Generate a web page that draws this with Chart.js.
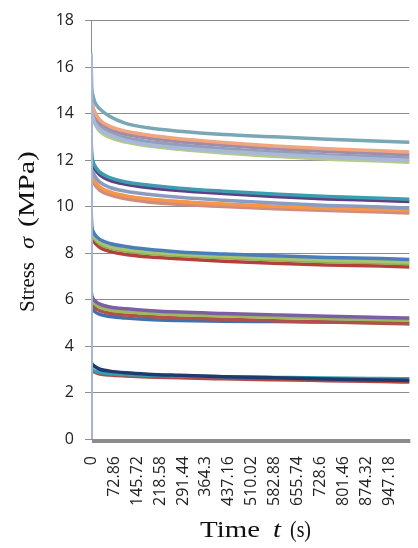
<!DOCTYPE html>
<html>
<head>
<meta charset="utf-8">
<script src="https://cdn.jsdelivr.net/npm/chart.js@4.4.1/dist/chart.umd.min.js"></script>
<style>
  html, body { margin: 0; padding: 0; background: #fff; }
  #relaxChart { display: block; }
</style>
</head>
<body>
<canvas id="relaxChart" width="418" height="548"></canvas>
<script>
// sample times (s) shared by every curve
const times = [0, 0.5, 2, 5, 12, 28, 60, 110, 180, 280, 420, 580, 750, 920, 1020];
// time values printed under the axis
const tickTimes = [0, 72.86, 145.72, 218.58, 291.44, 364.3, 437.16, 510.02, 582.88, 655.74, 728.6, 801.46, 874.32, 947.18];
const stressTicks = [0, 2, 4, 6, 8, 10, 12, 14, 16, 18];

// stress (MPa), highest load level
const l5a = [0, 16.6, 14.2, 13.9, 13.6, 13.32, 13.08, 12.84, 12.67, 12.52, 12.38, 12.25, 12.14, 12.04, 11.98];
const l5b = [0, 16.0, 15.2, 14.85, 14.5, 14.2, 13.87, 13.58, 13.39, 13.24, 13.1, 13.0, 12.9, 12.81, 12.76];
const l5c = [0, 15.2, 14.68, 14.38, 14.07, 13.73, 13.45, 13.24, 13.08, 12.92, 12.76, 12.61, 12.49, 12.4, 12.34];
const l5d = [0, 14.9, 14.54, 14.24, 13.93, 13.6, 13.32, 13.11, 12.95, 12.79, 12.64, 12.49, 12.37, 12.28, 12.22];
const l5e = [0, 14.8, 14.38, 14.07, 13.77, 13.45, 13.17, 12.96, 12.8, 12.65, 12.49, 12.35, 12.22, 12.14, 12.08];
const l5f = [0, 14.5, 14.16, 13.86, 13.57, 13.24, 12.97, 12.77, 12.61, 12.46, 12.3, 12.16, 12.04, 11.96, 11.9];
// fourth load level
const l4a = [0, 12.8, 12.27, 12.01, 11.75, 11.48, 11.24, 11.06, 10.93, 10.79, 10.66, 10.54, 10.43, 10.36, 10.31];
const l4b = [0, 12.5, 12.15, 11.89, 11.64, 11.36, 11.13, 10.96, 10.82, 10.69, 10.56, 10.43, 10.33, 10.26, 10.21];
const l4c = [0, 12.3, 11.82, 11.57, 11.32, 11.05, 10.82, 10.66, 10.53, 10.4, 10.27, 10.15, 10.05, 9.98, 9.93];
const l4d = [0, 13.0, 11.6, 11.35, 11.1, 10.84, 10.63, 10.46, 10.33, 10.22, 10.11, 10.01, 9.93, 9.87, 9.83];
const l4e = [0, 12.1, 11.45, 11.2, 10.95, 10.7, 10.5, 10.33, 10.2, 10.1, 10.0, 9.91, 9.83, 9.77, 9.72];
const l4f = [0, 12.0, 11.55, 11.3, 11.05, 10.8, 10.6, 10.44, 10.31, 10.2, 10.09, 9.99, 9.9, 9.84, 9.8];
// third load level
const l3a = [0, 9.6, 9.19, 8.99, 8.8, 8.59, 8.41, 8.28, 8.16, 8.05, 7.96, 7.88, 7.81, 7.76, 7.72];
const l3b = [0, 9.4, 9.04, 8.85, 8.66, 8.46, 8.28, 8.15, 8.05, 7.95, 7.86, 7.77, 7.69, 7.64, 7.6];
const l3c = [0, 9.3, 8.97, 8.78, 8.6, 8.39, 8.22, 8.09, 7.99, 7.89, 7.8, 7.71, 7.63, 7.58, 7.54];
const l3d = [0, 9.9, 8.81, 8.62, 8.44, 8.24, 8.07, 7.94, 7.84, 7.75, 7.65, 7.56, 7.49, 7.44, 7.4];
// second load level
const l2a = [0, 6.4, 6.2, 6.08, 5.95, 5.8, 5.68, 5.6, 5.53, 5.46, 5.4, 5.34, 5.28, 5.23, 5.2];
const l2b = [0, 6.3, 6.05, 5.93, 5.82, 5.66, 5.55, 5.47, 5.41, 5.35, 5.3, 5.24, 5.18, 5.13, 5.1];
const l2c = [0, 6.2, 5.9, 5.78, 5.66, 5.52, 5.41, 5.33, 5.27, 5.21, 5.15, 5.09, 5.03, 4.98, 4.95];
const l2d = [0, 6.0, 5.75, 5.62, 5.48, 5.36, 5.27, 5.2, 5.14, 5.1, 5.07, 5.05, 5.03, 5.01, 5.0];
// lowest load level
const l1a = [0, 3.35, 3.25, 3.2, 3.12, 3.0, 2.92, 2.85, 2.79, 2.74, 2.68, 2.63, 2.58, 2.54, 2.52];
const l1b = [0, 3.2, 3.05, 2.97, 2.92, 2.86, 2.81, 2.77, 2.74, 2.71, 2.68, 2.65, 2.62, 2.6, 2.59];
const l1c = [0, 3.1, 3.0, 2.93, 2.87, 2.8, 2.75, 2.71, 2.67, 2.63, 2.59, 2.55, 2.51, 2.47, 2.45];

const curves = [l5a, l5b, l5c, l5d, l5e, l5f, l4a, l4b, l4c, l4d, l4e, l4f,
                l3a, l3b, l3c, l3d, l2a, l2b, l2c, l2d, l1a, l1b, l1c];
const lineColors = ['#a9b8d8', '#79a7b5', '#f2a47f', '#a08ea9', '#909fbb', '#b5c98b',
                    '#3c9db0', '#5f3f85', '#8b9cc3', '#f79646', '#cf8d80', '#a8aed3',
                    '#4a7dba', '#a8c46e', '#8fb04e', '#b3403d',
                    '#7b5ea3', '#9bbb59', '#b2504b', '#3f72ae',
                    '#1f3a6e', '#33a0b1', '#b04a45'];

const serif = '"Liberation Serif", "Times New Roman", serif';

// thick base band under the time axis and the mixed-font axis titles
const decorations = {
  id: 'decorations',
  beforeDatasetsDraw(chart) {
    const { ctx, chartArea } = chart;
    ctx.save();
    ctx.fillStyle = '#8c8c8c';
    ctx.fillRect(chartArea.left + 1, chartArea.bottom, chartArea.right - chartArea.left, 4);
    ctx.restore();
  },
  afterDraw(chart) {
    const ctx = chart.ctx;
    const fit = (text, font, x, y, w) => {
      ctx.font = font;
      const natural = ctx.measureText(text).width;
      ctx.save();
      ctx.translate(x, y);
      ctx.scale(w / natural, 1);
      ctx.fillText(text, 0, 0);
      ctx.restore();
    };
    ctx.save();
    ctx.fillStyle = '#111';
    ctx.textBaseline = 'alphabetic';
    ctx.textAlign = 'left';
    // x title
    fit('Time', '23px ' + serif, 200, 537, 60);
    fit('t', 'italic 23px ' + serif, 273, 537, 8);
    fit('(s)', '23px ' + serif, 290, 537, 21);
    // y title, rotated
    ctx.translate(34, 0);
    ctx.rotate(-Math.PI / 2);
    fit('Stress', '20px ' + serif, -312, 0, 50);
    fit('σ', 'italic 21px ' + serif, -249, 0, 12);
    fit('(MPa)', '24px ' + serif, -227, 0, 76);
    ctx.restore();
  }
};

new Chart(document.getElementById('relaxChart'), {
  type: 'line',
  data: {
    labels: times,
    datasets: curves.map((c, i) => ({
      data: c,
      borderColor: lineColors[i],
      borderWidth: 3.5,
      pointRadius: 0,
      fill: false,
      cubicInterpolationMode: 'monotone'
    }))
  },
  options: {
    responsive: false,
    animation: false,
    layout: { padding: { top: 16, right: 0, left: 0, bottom: 0 } },
    plugins: { legend: { display: false }, tooltip: { enabled: false } },
    scales: {
      x: {
        type: 'linear',
        min: 0,
        max: 1009,
        grid: { display: false },
        border: { display: false },
        afterBuildTicks: s => { s.ticks = tickTimes.map(v => ({ value: v })); },
        afterFit: s => { s.height = 109; },
        ticks: {
          autoSkip: false,
          minRotation: 90,
          maxRotation: 90,
          padding: 9,
          color: '#222',
          font: { family: '"Open Sans"', size: 16 },
          callback: v => String(v)
        }
      },
      y: {
        min: 0,
        max: 18,
        afterBuildTicks: s => { s.ticks = stressTicks.map(v => ({ value: v })); },
        afterFit: s => { s.width = 91; },
        grid: { color: '#8c8c8c', lineWidth: 1, tickLength: 6 },
        border: { color: '#8c8c8c', width: 1 },
        ticks: {
          padding: 11,
          color: '#222',
          font: { family: '"Open Sans"', size: 16 }
        }
      }
    }
  },
  plugins: [decorations]
});
</script>
</body>
</html>
